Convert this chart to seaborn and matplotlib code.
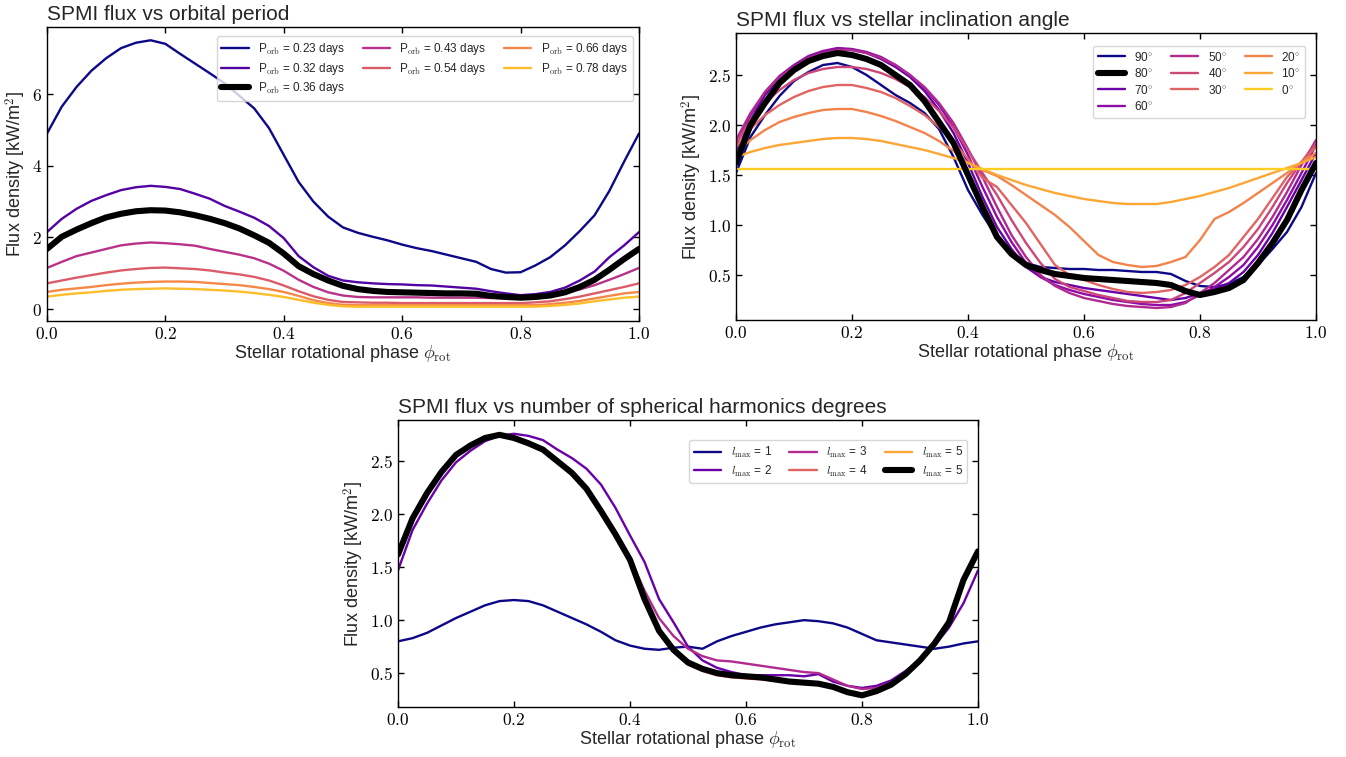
import numpy as np
import seaborn as sns
import matplotlib
matplotlib.use("Agg")
import matplotlib.pyplot as plt
from matplotlib.ticker import FuncFormatter, MultipleLocator

# rotational phase grid (0 -> 1, step 0.025)
phase = np.round(np.arange(41) * 0.025, 3)

# ---- panel 1: flux vs orbital period ----
porb_labels = ["0.23", "0.32", "0.36", "0.43", "0.54", "0.66", "0.78"]
flux_p023 = [4.90, 5.65, 6.20, 6.65, 7.00, 7.28, 7.43, 7.50, 7.40, 7.12, 6.85, 6.58, 6.30, 5.95,
             5.60, 5.05, 4.30, 3.55, 3.00, 2.58, 2.28, 2.13, 2.02, 1.92, 1.80, 1.70, 1.62, 1.52,
             1.42, 1.32, 1.12, 1.02, 1.03, 1.22, 1.45, 1.78, 2.18, 2.62, 3.30, 4.12, 4.90]
flux_p032 = [2.15, 2.52, 2.80, 3.02, 3.18, 3.32, 3.40, 3.44, 3.41, 3.35, 3.22, 3.08, 2.88, 2.72,
             2.55, 2.32, 1.98, 1.48, 1.17, 0.93, 0.80, 0.75, 0.72, 0.70, 0.69, 0.67, 0.66, 0.63,
             0.60, 0.57, 0.50, 0.44, 0.39, 0.42, 0.48, 0.60, 0.80, 1.05, 1.45, 1.78, 2.15]
flux_p036 = [1.68, 2.02, 2.22, 2.40, 2.56, 2.66, 2.73, 2.76, 2.75, 2.70, 2.62, 2.52, 2.40, 2.25,
             2.06, 1.85, 1.55, 1.20, 0.98, 0.80, 0.65, 0.56, 0.51, 0.48, 0.47, 0.46, 0.45, 0.44,
             0.44, 0.43, 0.37, 0.34, 0.32, 0.34, 0.38, 0.47, 0.62, 0.82, 1.10, 1.40, 1.68]
flux_p043 = [1.15, 1.32, 1.48, 1.58, 1.68, 1.78, 1.83, 1.86, 1.84, 1.81, 1.77, 1.68, 1.60, 1.52,
             1.42, 1.27, 1.07, 0.82, 0.62, 0.47, 0.38, 0.34, 0.33, 0.33, 0.33, 0.33, 0.32, 0.32,
             0.32, 0.32, 0.31, 0.31, 0.31, 0.33, 0.38, 0.45, 0.55, 0.67, 0.82, 0.98, 1.15]
flux_p054 = [0.72, 0.80, 0.88, 0.95, 1.02, 1.08, 1.12, 1.15, 1.16, 1.14, 1.12, 1.08, 1.02, 0.97,
             0.90, 0.80, 0.66, 0.50, 0.36, 0.26, 0.20, 0.19, 0.18, 0.18, 0.17, 0.17, 0.17, 0.17,
             0.17, 0.17, 0.17, 0.17, 0.17, 0.19, 0.22, 0.28, 0.35, 0.44, 0.53, 0.62, 0.72]
flux_p066 = [0.48, 0.54, 0.58, 0.62, 0.67, 0.71, 0.74, 0.76, 0.77, 0.77, 0.76, 0.73, 0.70, 0.67,
             0.62, 0.56, 0.48, 0.37, 0.25, 0.17, 0.12, 0.11, 0.11, 0.11, 0.11, 0.11, 0.11, 0.11,
             0.11, 0.11, 0.11, 0.11, 0.11, 0.11, 0.14, 0.18, 0.23, 0.30, 0.37, 0.44, 0.48]
flux_p078 = [0.35, 0.40, 0.44, 0.47, 0.51, 0.54, 0.56, 0.57, 0.58, 0.57, 0.56, 0.54, 0.52, 0.49,
             0.45, 0.40, 0.34, 0.26, 0.18, 0.12, 0.08, 0.07, 0.07, 0.07, 0.07, 0.07, 0.07, 0.07,
             0.07, 0.07, 0.07, 0.07, 0.07, 0.07, 0.09, 0.12, 0.16, 0.22, 0.27, 0.32, 0.35]

# ---- panel 2: flux vs stellar inclination ----
incl_labels = ["90", "80", "70", "60", "50", "40", "30", "20", "10", "0"]
flux_i90 = [1.52, 1.88, 2.10, 2.29, 2.44, 2.53, 2.60, 2.62, 2.58, 2.50, 2.40, 2.30, 2.22, 2.12,
            1.96, 1.68, 1.35, 1.10, 0.88, 0.70, 0.62, 0.58, 0.57, 0.56, 0.56, 0.55, 0.55, 0.54,
            0.53, 0.53, 0.51, 0.44, 0.39, 0.38, 0.41, 0.48, 0.60, 0.76, 0.93, 1.18, 1.52]
flux_i80 = [1.62, 2.00, 2.22, 2.42, 2.55, 2.64, 2.69, 2.72, 2.70, 2.66, 2.60, 2.50, 2.40, 2.24,
            2.03, 1.82, 1.50, 1.18, 0.88, 0.71, 0.60, 0.55, 0.51, 0.49, 0.47, 0.46, 0.45, 0.44,
            0.43, 0.42, 0.40, 0.34, 0.30, 0.33, 0.37, 0.45, 0.62, 0.82, 1.05, 1.35, 1.62]
flux_i70 = [1.72, 2.05, 2.30, 2.47, 2.59, 2.68, 2.73, 2.76, 2.75, 2.72, 2.66, 2.58, 2.48, 2.34,
            2.15, 1.92, 1.62, 1.28, 0.98, 0.76, 0.58, 0.48, 0.43, 0.40, 0.37, 0.35, 0.33, 0.31,
            0.29, 0.27, 0.25, 0.27, 0.32, 0.36, 0.42, 0.53, 0.70, 0.92, 1.18, 1.45, 1.72]
flux_i60 = [1.80, 2.10, 2.33, 2.49, 2.60, 2.69, 2.74, 2.77, 2.76, 2.73, 2.68, 2.60, 2.50, 2.37,
            2.20, 1.98, 1.70, 1.38, 1.08, 0.83, 0.62, 0.48, 0.40, 0.35, 0.31, 0.28, 0.25, 0.23,
            0.21, 0.20, 0.20, 0.23, 0.30, 0.38, 0.48, 0.60, 0.78, 1.00, 1.25, 1.52, 1.80]
flux_i50 = [1.85, 2.12, 2.33, 2.48, 2.58, 2.67, 2.72, 2.75, 2.75, 2.72, 2.67, 2.60, 2.50, 2.38,
            2.22, 2.02, 1.76, 1.48, 1.18, 0.90, 0.68, 0.50, 0.39, 0.32, 0.27, 0.24, 0.21, 0.19,
            0.18, 0.17, 0.18, 0.22, 0.32, 0.42, 0.55, 0.68, 0.86, 1.08, 1.33, 1.60, 1.85]
flux_i40 = [1.82, 2.05, 2.22, 2.35, 2.45, 2.52, 2.56, 2.58, 2.58, 2.56, 2.52, 2.46, 2.38, 2.28,
            2.14, 1.97, 1.75, 1.52, 1.30, 1.05, 0.82, 0.62, 0.46, 0.38, 0.34, 0.30, 0.27, 0.24,
            0.23, 0.23, 0.25, 0.32, 0.42, 0.52, 0.63, 0.78, 0.96, 1.18, 1.42, 1.63, 1.82]
flux_i30 = [1.78, 1.96, 2.10, 2.20, 2.28, 2.34, 2.38, 2.40, 2.40, 2.37, 2.33, 2.27, 2.19, 2.10,
            1.98, 1.83, 1.66, 1.47, 1.38, 1.20, 1.02, 0.81, 0.60, 0.50, 0.45, 0.40, 0.36, 0.33,
            0.32, 0.33, 0.35, 0.40, 0.48, 0.58, 0.70, 0.88, 1.06, 1.27, 1.48, 1.63, 1.78]
flux_i20 = [1.72, 1.85, 1.95, 2.03, 2.08, 2.12, 2.15, 2.16, 2.16, 2.13, 2.09, 2.04, 1.98, 1.92,
            1.84, 1.74, 1.62, 1.55, 1.49, 1.40, 1.30, 1.20, 1.10, 0.98, 0.84, 0.70, 0.63, 0.60,
            0.58, 0.59, 0.63, 0.68, 0.85, 1.06, 1.13, 1.22, 1.32, 1.42, 1.52, 1.63, 1.72]
flux_i10 = [1.68, 1.73, 1.77, 1.80, 1.82, 1.84, 1.86, 1.87, 1.87, 1.86, 1.84, 1.81, 1.78, 1.75,
            1.71, 1.67, 1.62, 1.56, 1.50, 1.45, 1.40, 1.36, 1.32, 1.29, 1.26, 1.24, 1.22, 1.21,
            1.21, 1.21, 1.23, 1.26, 1.29, 1.33, 1.37, 1.42, 1.47, 1.52, 1.57, 1.62, 1.68]
flux_i00 = [1.56] * 41

# ---- panel 3: flux vs l_max ----
lmax_labels = ["1", "2", "3", "4", "5", "5"]
flux_l1 = [0.80, 0.83, 0.88, 0.95, 1.02, 1.08, 1.14, 1.18, 1.19, 1.18, 1.14, 1.08, 1.02, 0.96,
           0.89, 0.81, 0.76, 0.73, 0.72, 0.74, 0.75, 0.73, 0.80, 0.85, 0.89, 0.93, 0.96, 0.98,
           1.00, 0.99, 0.97, 0.93, 0.87, 0.81, 0.79, 0.77, 0.75, 0.73, 0.75, 0.78, 0.80]
flux_l2 = [1.47, 1.85, 2.10, 2.32, 2.49, 2.60, 2.69, 2.74, 2.76, 2.74, 2.70, 2.61, 2.53, 2.43,
           2.28, 2.06, 1.80, 1.55, 1.20, 0.98, 0.75, 0.62, 0.55, 0.51, 0.48, 0.48, 0.48, 0.48,
           0.47, 0.49, 0.42, 0.38, 0.36, 0.38, 0.43, 0.52, 0.62, 0.76, 0.93, 1.16, 1.47]
flux_l3 = [1.62, 1.95, 2.19, 2.39, 2.55, 2.65, 2.72, 2.75, 2.72, 2.67, 2.61, 2.51, 2.40, 2.25,
           2.05, 1.83, 1.58, 1.28, 1.02, 0.85, 0.73, 0.66, 0.62, 0.61, 0.59, 0.57, 0.55, 0.53,
           0.51, 0.50, 0.44, 0.38, 0.35, 0.36, 0.41, 0.50, 0.63, 0.78, 0.98, 1.36, 1.64]
flux_l4 = [1.62, 1.96, 2.20, 2.40, 2.56, 2.65, 2.72, 2.75, 2.72, 2.67, 2.61, 2.50, 2.39, 2.24,
           2.04, 1.82, 1.58, 1.22, 0.88, 0.70, 0.58, 0.52, 0.48, 0.46, 0.45, 0.44, 0.43, 0.41,
           0.40, 0.39, 0.36, 0.32, 0.29, 0.33, 0.39, 0.49, 0.62, 0.78, 0.98, 1.38, 1.65]
flux_l5 = [1.62, 1.96, 2.20, 2.40, 2.56, 2.65, 2.72, 2.75, 2.72, 2.67, 2.61, 2.50, 2.39, 2.24,
           2.03, 1.81, 1.57, 1.20, 0.90, 0.72, 0.60, 0.54, 0.50, 0.48, 0.47, 0.46, 0.44, 0.42,
           0.41, 0.40, 0.37, 0.32, 0.29, 0.33, 0.39, 0.49, 0.62, 0.78, 0.98, 1.38, 1.65]

sns.set_style("ticks")
plt.rcParams.update({
    "font.family": ["Liberation Sans", "DejaVu Sans"],
    "mathtext.fontset": "cm",
    "xtick.direction": "in", "ytick.direction": "in",
    "xtick.top": True, "ytick.right": True,
    "xtick.major.size": 4, "ytick.major.size": 4,
    "xtick.color": "black", "ytick.color": "black",
    "axes.edgecolor": "black", "axes.linewidth": 1.0,
})

fig = plt.figure(figsize=(13.46, 7.57), dpi=100)
W, H = 1346, 757


def box(l, t, r, b):
    return [l / W, 1 - b / H, (r - l) / W, (b - t) / H]


ax1 = fig.add_axes(box(47, 27, 639, 321))
ax2 = fig.add_axes(box(736, 33, 1316, 320))
ax3 = fig.add_axes(box(398, 420, 978, 707))

cm = plt.get_cmap("plasma")
thin, thick = 1.7, 4.4

# panel 1
p1_series = [flux_p023, flux_p032, flux_p036, flux_p043, flux_p054, flux_p066, flux_p078]
p1_cols = [cm(v) for v in np.linspace(0, 1, 8)[:7]]
for i, (lab, vals) in enumerate(zip(porb_labels, p1_series)):
    black = lab == "0.36"
    sns.lineplot(x=phase, y=vals, ax=ax1, color="black" if black else p1_cols[i],
                 lw=thick if black else thin, zorder=3 if black else 2,
                 label=r"P$_{\rm orb}$ = " + lab + " days")

# panel 2
p2_series = [flux_i90, flux_i80, flux_i70, flux_i60, flux_i50, flux_i40, flux_i30,
             flux_i20, flux_i10, flux_i00]
p2_cols = [cm(v) for v in np.linspace(0, 0.9, 10)]
for i, (lab, vals) in enumerate(zip(incl_labels, p2_series)):
    black = lab == "80"
    sns.lineplot(x=phase, y=vals, ax=ax2, color="black" if black else p2_cols[i],
                 lw=thick if black else thin, zorder=3 if black else 2,
                 label=lab + r"$^{\circ}$")

# panel 3
p3_series = [flux_l1, flux_l2, flux_l3, flux_l4, flux_l5, flux_l5]
p3_cols = [cm(v) for v in np.linspace(0, 0.8, 5)] + ["black"]
for i, (lab, vals) in enumerate(zip(lmax_labels, p3_series)):
    black = i == 5
    sns.lineplot(x=phase, y=vals, ax=ax3, color=p3_cols[i],
                 lw=thick if black else thin, zorder=3 if black else 2,
                 label=r"$l_{\rm max}$ = " + lab)

fmt1 = FuncFormatter(lambda v, p: f"${v:.1f}$")
fmt0 = FuncFormatter(lambda v, p: f"${v:.0f}$")

titles = ["SPMI flux vs orbital period", "SPMI flux vs stellar inclination angle",
          "SPMI flux vs number of spherical harmonics degrees"]
ylims = [(-0.33, 7.87), (0.05, 2.92), (0.18, 2.89)]
for ax, title, yl in zip([ax1, ax2, ax3], titles, ylims):
    ax.set_xlim(0, 1)
    ax.set_ylim(*yl)
    ax.xaxis.set_major_locator(MultipleLocator(0.2))
    ax.xaxis.set_major_formatter(fmt1)
    ax.tick_params(labelsize=12.5, width=1.0)
    ax.set_title(title, loc="left", fontsize=15, pad=5)
    ax.set_xlabel(r"Stellar rotational phase $\phi_{\rm rot}$", fontsize=13, labelpad=1)
    ax.set_ylabel(r"Flux density [kW/m$^2$]", fontsize=13, labelpad=3)

ax1.yaxis.set_major_locator(MultipleLocator(2))
ax1.yaxis.set_major_formatter(fmt0)
for ax in (ax2, ax3):
    ax.yaxis.set_major_locator(MultipleLocator(0.5))
    ax.yaxis.set_major_formatter(fmt1)

leg_kw = dict(ncol=3, fontsize=8.5, loc="upper right", edgecolor="#cccccc",
              handlelength=2.3, columnspacing=1.5, labelspacing=0.3, borderpad=0.4)
ax1.legend(bbox_to_anchor=(0.999, 0.988), **leg_kw)
ax2.legend(bbox_to_anchor=(0.992, 0.976), **leg_kw)
ax3.legend(bbox_to_anchor=(0.992, 0.95), **leg_kw)

fig.savefig("out.png", dpi=100)
